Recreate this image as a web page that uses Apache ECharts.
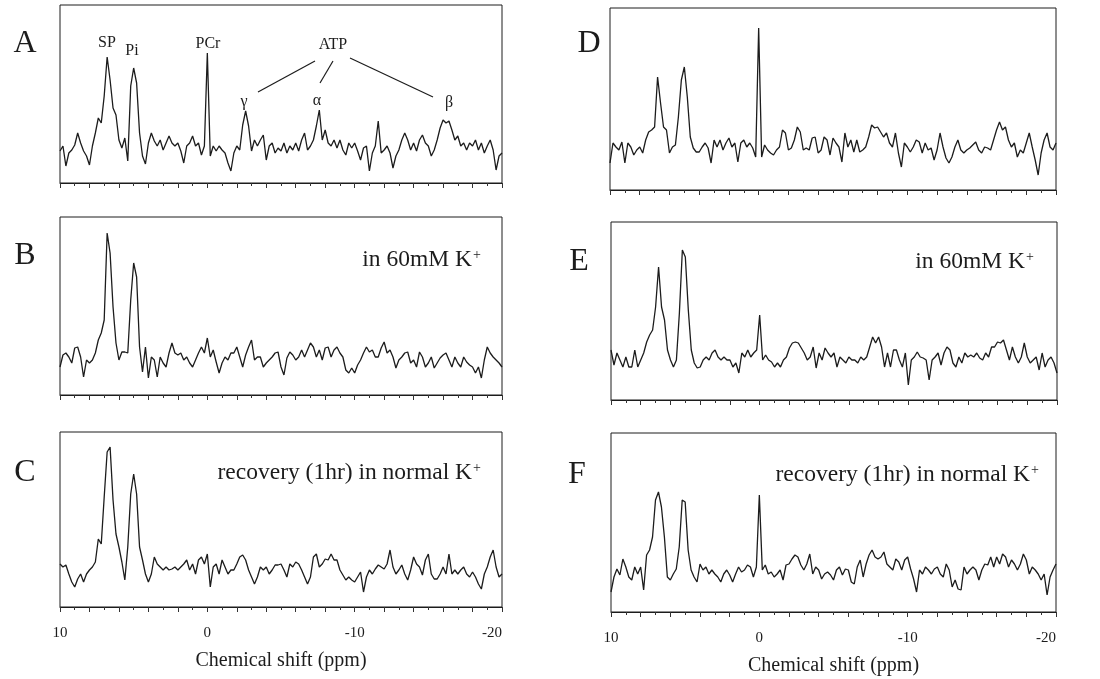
<!DOCTYPE html>
<html>
<head>
<meta charset="utf-8">
<script src="https://cdn.jsdelivr.net/npm/echarts/dist/echarts.min.js"></script>
<style>
  html, body { margin: 0; padding: 0; background: #ffffff; }
  #chart { width: 1100px; height: 679px; }
</style>
</head>
<body>
<div id="chart"></div>
<script>
// 31P NMR spectra: chemical shift axis sampled every 0.2 ppm from 10 down to -20
const ppmFirst = 10;
const ppmStep = 0.2;
const xTickLabels = [10, 0, -10, -20];

// Signal intensity (arbitrary units) for each spectrum, one value per 0.2 ppm
const specA = [
  32, 37, 17, 30, 33, 38, 50, 40, 32, 27, 18, 37, 50, 65, 60, 87, 126, 103, 75, 68,
  43, 35, 45, 22, 97, 115, 100, 50, 27, 19, 40, 50, 42, 37, 43, 33, 40, 47, 40, 37,
  40, 32, 20, 37, 40, 47, 37, 40, 28, 37, 130, 27, 37, 32, 37, 33, 30, 20, 12, 30,
  37, 33, 58, 72, 57, 32, 43, 37, 43, 48, 23, 37, 40, 30, 35, 32, 40, 30, 37, 33,
  40, 32, 43, 50, 33, 37, 43, 57, 73, 43, 53, 40, 37, 43, 35, 43, 33, 28, 40, 35,
  40, 32, 23, 35, 37, 12, 30, 37, 62, 30, 33, 37, 30, 15, 27, 33, 43, 50, 43, 33,
  40, 32, 43, 48, 40, 37, 27, 33, 43, 55, 63, 60, 62, 53, 43, 47, 37, 40, 33, 40,
  37, 43, 33, 40, 30, 37, 43, 33, 13, 27, 30
];
const specB = [
  28, 40, 42, 38, 32, 47, 48, 38, 18, 35, 32, 35, 42, 55, 62, 75, 162, 142, 88, 52,
  35, 43, 43, 42, 95, 132, 118, 48, 23, 48, 17, 38, 35, 18, 38, 32, 28, 42, 52, 42,
  40, 42, 35, 38, 32, 28, 35, 42, 48, 42, 57, 38, 45, 33, 22, 32, 38, 35, 42, 42,
  48, 38, 28, 40, 48, 55, 35, 38, 38, 28, 32, 35, 38, 42, 43, 28, 20, 37, 43, 40,
  35, 38, 45, 38, 45, 52, 48, 38, 45, 35, 47, 48, 38, 45, 48, 42, 38, 25, 22, 27,
  22, 30, 35, 42, 48, 43, 45, 38, 38, 47, 53, 42, 45, 38, 27, 35, 38, 42, 43, 32,
  35, 28, 43, 38, 28, 32, 38, 27, 32, 37, 40, 42, 35, 28, 38, 32, 28, 38, 33, 30,
  28, 22, 28, 17, 35, 48, 42, 38, 35, 32, 28
];
const specC = [
  43, 40, 42, 33, 25, 20, 28, 33, 25, 33, 37, 40, 45, 68, 63, 110, 155, 160, 107, 73,
  60, 45, 27, 60, 113, 133, 113, 60, 47, 33, 25, 33, 50, 43, 40, 37, 40, 37, 38, 40,
  37, 40, 43, 47, 37, 43, 33, 47, 50, 43, 53, 20, 40, 43, 33, 47, 40, 33, 37, 37,
  43, 50, 52, 47, 37, 30, 23, 30, 40, 37, 40, 33, 37, 42, 42, 43, 37, 30, 43, 40,
  45, 43, 37, 30, 23, 30, 50, 53, 40, 43, 48, 47, 53, 47, 47, 37, 32, 27, 30, 27,
  25, 30, 35, 15, 30, 37, 33, 38, 42, 40, 38, 43, 57, 40, 33, 37, 42, 33, 27, 37,
  50, 43, 40, 32, 47, 53, 33, 28, 28, 33, 40, 33, 53, 33, 37, 33, 37, 40, 33, 30,
  35, 30, 23, 18, 33, 40, 50, 57, 40, 30, 33
];
const specD = [
  27, 47, 43, 40, 48, 27, 47, 43, 35, 40, 43, 37, 50, 58, 60, 63, 113, 87, 63, 60,
  37, 43, 45, 73, 110, 123, 93, 53, 42, 38, 38, 43, 47, 42, 27, 50, 43, 50, 40, 47,
  52, 43, 47, 28, 47, 50, 43, 47, 42, 33, 162, 33, 45, 40, 37, 35, 40, 43, 60, 57,
  40, 42, 50, 63, 58, 40, 42, 40, 52, 53, 37, 40, 53, 50, 35, 52, 47, 43, 28, 57,
  43, 50, 38, 50, 38, 40, 43, 53, 65, 62, 63, 58, 53, 57, 47, 43, 57, 37, 23, 47,
  43, 38, 43, 50, 48, 37, 47, 40, 42, 30, 40, 57, 43, 32, 27, 33, 43, 50, 40, 37,
  40, 42, 45, 48, 40, 37, 43, 42, 40, 50, 60, 68, 60, 63, 50, 43, 47, 33, 40, 37,
  47, 57, 43, 30, 15, 37, 50, 57, 43, 40, 47
];
const specE = [
  50, 35, 47, 40, 33, 43, 33, 33, 50, 33, 40, 47, 58, 65, 70, 93, 133, 93, 80, 50,
  40, 33, 40, 87, 150, 143, 90, 50, 37, 32, 33, 40, 43, 40, 47, 50, 43, 40, 43, 40,
  40, 33, 37, 27, 47, 43, 50, 43, 47, 50, 85, 40, 45, 40, 38, 33, 37, 33, 40, 43,
  52, 57, 58, 57, 52, 47, 40, 43, 53, 32, 47, 40, 52, 47, 43, 47, 33, 43, 40, 37,
  43, 40, 40, 37, 43, 40, 43, 53, 63, 57, 63, 53, 33, 47, 33, 50, 50, 40, 33, 47,
  15, 40, 43, 48, 43, 42, 40, 20, 40, 43, 47, 35, 47, 53, 50, 37, 33, 43, 37, 47,
  43, 45, 43, 47, 42, 40, 47, 43, 53, 53, 58, 57, 60, 50, 40, 53, 43, 37, 43, 57,
  43, 37, 40, 43, 30, 47, 33, 40, 43, 37, 27
];
const specF = [
  20, 35, 43, 37, 53, 45, 35, 32, 45, 38, 45, 22, 57, 62, 75, 112, 120, 105, 75, 35,
  32, 38, 43, 65, 112, 110, 62, 42, 35, 30, 48, 42, 45, 38, 42, 38, 35, 30, 38, 42,
  37, 30, 38, 45, 40, 42, 47, 45, 35, 45, 117, 42, 47, 38, 40, 35, 38, 42, 32, 47,
  48, 53, 57, 55, 47, 42, 48, 58, 38, 45, 42, 33, 38, 40, 37, 32, 42, 45, 37, 43,
  42, 30, 28, 45, 52, 35, 48, 57, 62, 55, 53, 55, 60, 48, 45, 42, 53, 50, 42, 52,
  55, 43, 33, 20, 42, 38, 45, 42, 38, 43, 45, 38, 35, 48, 42, 25, 32, 23, 22, 45,
  38, 42, 45, 42, 32, 42, 48, 47, 55, 45, 55, 48, 58, 55, 45, 52, 48, 42, 48, 58,
  52, 38, 45, 42, 38, 32, 38, 17, 35, 42, 48
];

const SERIF = '"Liberation Serif", "Times New Roman", serif';
const INK = '#1c1c1c';
const TICK = '#333333';

// Panel layout: plot rectangle [left, top, width, height] and the label beside it
const panels = [
  { key: 'A', values: specA, rect: [60, 5, 442, 178],   letter: [25, 44],  showLabels: false },
  { key: 'B', values: specB, rect: [60, 217, 442, 178], letter: [25, 256], showLabels: false },
  { key: 'C', values: specC, rect: [60, 432, 442, 175], letter: [25, 473], showLabels: true },
  { key: 'D', values: specD, rect: [610, 8, 446, 182],  letter: [589, 44], showLabels: false },
  { key: 'E', values: specE, rect: [611, 222, 446, 178], letter: [579, 262], showLabels: false },
  { key: 'F', values: specF, rect: [611, 433, 445, 179], letter: [577, 475], showLabels: true }
];

function toPairs(values) {
  return values.map((v, i) => [+(ppmFirst - i * ppmStep).toFixed(1), v]);
}

const grids = [], xAxes = [], yAxes = [], series = [];
panels.forEach((p, idx) => {
  grids.push({
    left: p.rect[0], top: p.rect[1], width: p.rect[2], height: p.rect[3],
    show: true, borderColor: INK, borderWidth: 1, backgroundColor: 'transparent',
    containLabel: false, outerBoundsMode: 'none'
  });
  // long ticks on even ppm, short ticks on odd ppm
  xAxes.push({
    gridIndex: idx, type: 'value', min: -20, max: 10, interval: 2, inverse: true,
    axisLine: { show: true, onZero: false, lineStyle: { color: INK, width: 1 } },
    axisTick: { show: true, length: 5, lineStyle: { color: TICK, width: 1 } },
    minorTick: { show: true, splitNumber: 2, length: 3, lineStyle: { color: TICK, width: 1 } },
    splitLine: { show: false },
    minorSplitLine: { show: false },
    axisLabel: {
      show: p.showLabels, margin: 19, color: INK, fontFamily: SERIF, fontSize: 15,
      alignMinLabel: 'right',
      formatter: v => (xTickLabels.indexOf(v) >= 0 ? String(v) : '')
    },
    name: p.showLabels ? 'Chemical shift (ppm)' : '',
    nameLocation: 'middle', nameGap: 44,
    nameTextStyle: { color: INK, fontFamily: SERIF, fontSize: 20 }
  });
  yAxes.push({
    gridIndex: idx, type: 'value', min: 0, max: p.rect[3], show: false,
    splitLine: { show: false }
  });
  series.push({
    type: 'line', xAxisIndex: idx, yAxisIndex: idx, data: toPairs(p.values),
    showSymbol: false, symbol: 'none', silent: true, animation: false,
    lineStyle: { color: INK, width: 1.3 }
  });
});

function txt(x, y, s, size, align) {
  return {
    type: 'text', x: x, y: y, silent: true,
    style: { text: s, font: size + 'px ' + SERIF, fill: INK, align: align || 'center', verticalAlign: 'middle' }
  };
}
function seg(x1, y1, x2, y2) {
  return { type: 'line', silent: true, shape: { x1, y1, x2, y2 }, style: { stroke: INK, lineWidth: 1.2 } };
}

const graphics = [];
panels.forEach(p => graphics.push(txt(p.letter[0], p.letter[1], p.key, 32)));

// Peak assignments in spectrum A
graphics.push(
  txt(107, 43, 'SP', 16), txt(132, 51, 'Pi', 16), txt(208, 44, 'PCr', 16), txt(333, 45, 'ATP', 16),
  txt(244, 102, 'γ', 16), txt(317, 101, 'α', 16), txt(449, 103, 'β', 16),
  seg(315, 61, 258, 92), seg(333, 61, 320, 83), seg(350, 58, 433, 97)
);

// Condition notes
const notes = [
  { text: 'in 60mM K', right: 472, y: 260 },
  { text: 'in 60mM K', right: 1025, y: 262 },
  { text: 'recovery (1hr) in normal K', right: 472, y: 473 },
  { text: 'recovery (1hr) in normal K', right: 1030, y: 475 }
];
notes.forEach(n => {
  graphics.push(txt(n.right, n.y, n.text, 23.5, 'right'));
  graphics.push(txt(n.right + 5, n.y - 5, '+', 14, 'center'));
});

const chart = echarts.init(document.getElementById('chart'), null, { renderer: 'canvas' });
chart.setOption({
  backgroundColor: '#ffffff',
  animation: false,
  grid: grids,
  xAxis: xAxes,
  yAxis: yAxes,
  series: series,
  graphic: graphics
});
</script>
</body>
</html>
